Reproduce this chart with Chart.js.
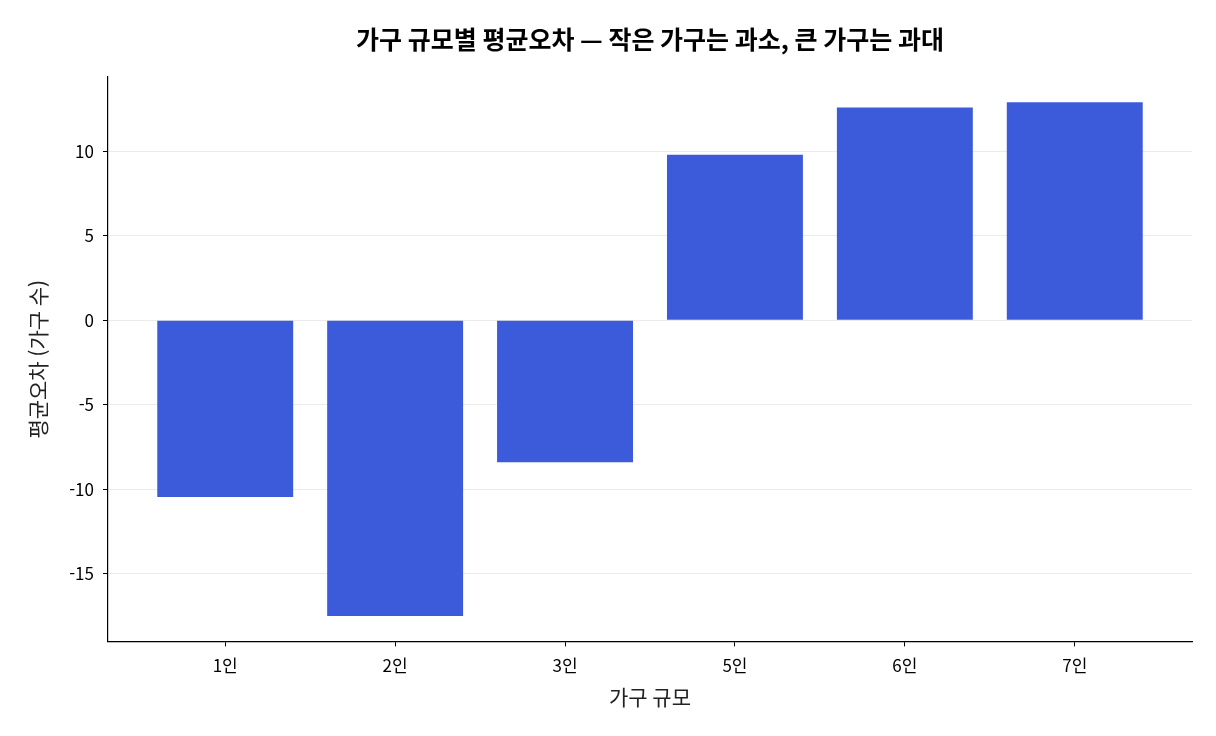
<!DOCTYPE html>
<html lang="ko">
<head>
  <meta charset="UTF-8">
  <title>가구 규모별 평균오차</title>
  <script src="https://cdn.jsdelivr.net/npm/chart.js"></script>
  <style>
    html, body {
      margin: 0;
      padding: 0;
      background: #fff;
    }

    .chart-container {
      position: relative;
      width: 1216px;
      height: 736px;
    }
  </style>
</head>
<body>
  <div class="chart-container">
    <canvas id="errorChart" width="1216" height="736"></canvas>
  </div>

  <script>
    const sizes = ["1인", "2인", "3인", "5인", "6인", "7인"];
    const meanError = [-10.45, -17.5, -8.4, 9.8, 12.6, 12.9];
    const yTicks = [-15, -10, -5, 0, 5, 10];

    const font = "'Noto Sans CJK KR', 'Noto Sans', sans-serif";

    new Chart(document.getElementById('errorChart'), {
      type: 'bar',
      data: {
        datasets: [{
          label: '평균오차',
          data: sizes.map((s, i) => ({ x: i, y: meanError[i] })),
          backgroundColor: '#3b5bdb',
          categoryPercentage: 1.0,
          barPercentage: 0.8
        }]
      },
      options: {
        responsive: false,
        animation: false,
        layout: { padding: { left: 21, right: 24, top: 14, bottom: 22 } },
        plugins: {
          legend: { display: false },
          tooltip: { enabled: false },
          title: {
            display: true,
            fullSize: false,
            text: '가구 규모별 평균오차 — 작은 가구는 과소, 큰 가구는 과대',
            color: '#000',
            font: { family: font, size: 25, weight: 'bold' },
            padding: { top: 10, bottom: 23 }
          }
        },
        scales: {
          x: {
            type: 'linear',
            offset: false,
            min: -0.69,
            max: 5.69,
            afterBuildTicks: axis => {
              axis.ticks = sizes.map((s, i) => ({ value: i }));
            },
            ticks: {
              callback: v => sizes[v],
              color: '#000',
              font: { family: font, size: 17 },
              padding: 9
            },
            grid: {
              display: true,
              offset: false,
              drawOnChartArea: false,
              color: '#000',
              tickLength: 5
            },
            border: { color: '#000', width: 1.2 },
            title: {
              display: true,
              text: '가구 규모',
              color: '#222',
              font: { family: font, size: 21 },
              padding: { top: 0 }
            }
          },
          y: {
            min: -19.0,
            max: 14.4,
            z: 1,
            afterBuildTicks: axis => {
              axis.ticks = yTicks.map(v => ({ value: v }));
            },
            ticks: {
              color: '#000',
              font: { family: font, size: 17 },
              padding: 9
            },
            grid: {
              color: 'rgba(205,205,205,0.4)',
              tickColor: '#000',
              tickLength: 5
            },
            border: { color: '#000', width: 1.2 },
            title: {
              display: true,
              text: '평균오차 (가구 수)',
              color: '#222',
              font: { family: font, size: 21 },
              padding: { bottom: 10 }
            }
          }
        }
      }
    });
  </script>
</body>
</html>
